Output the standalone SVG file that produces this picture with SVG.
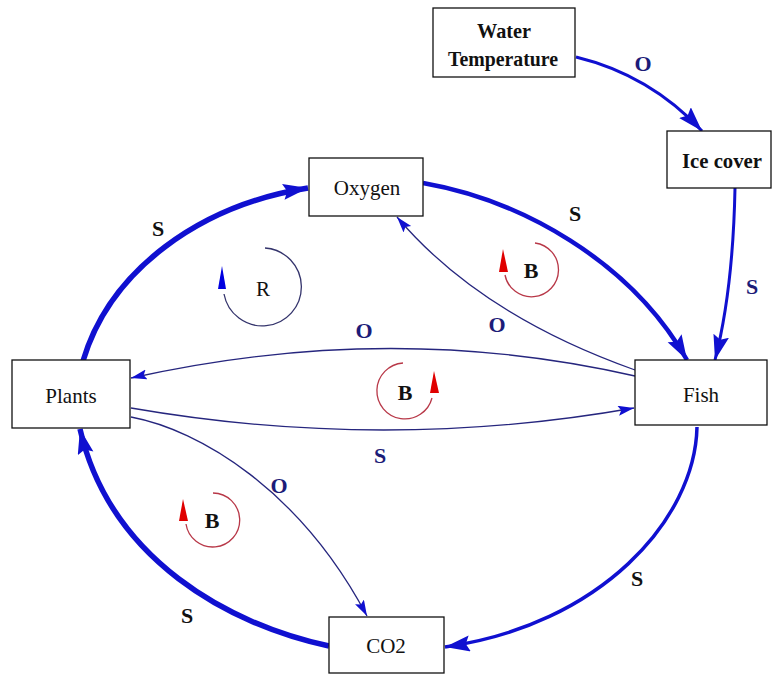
<svg xmlns="http://www.w3.org/2000/svg" width="772" height="675" viewBox="0 0 772 675">
<style>
.box{fill:#fff;stroke:#111;stroke-width:1.3}
.nt{font-family:"Liberation Serif","Times New Roman",serif;font-size:21px;fill:#111;text-anchor:middle}
.nb{font-family:"Liberation Serif","Times New Roman",serif;font-size:21px;font-weight:bold;fill:#111;text-anchor:middle}
.c{fill:none;stroke:#1010d0}
.thin{fill:none;stroke:#26267e;stroke-width:1.3}
.lb{font-family:"Liberation Serif","Times New Roman",serif;font-size:22px;font-weight:bold;text-anchor:middle}
.nv{fill:#1c1c78}
.bk{fill:#111}
.rarc{fill:none;stroke:#34346c;stroke-width:1.3}
.barc{fill:none;stroke:#b83848;stroke-width:1.3}
</style>
<defs>
<marker id="ab" markerUnits="userSpaceOnUse" markerWidth="28" markerHeight="18" refX="25" refY="8" orient="auto">
<path d="M0,0 L25,8 L0,16 L4,8 z" fill="#1010d0"/>
</marker>
<marker id="at" markerUnits="userSpaceOnUse" markerWidth="18" markerHeight="12" refX="16" refY="5" orient="auto">
<path d="M0,0 L16,5 L0,10 L3,5 z" fill="#1010d0"/>
</marker>
</defs>
<rect width="772" height="675" fill="#fff"/>
<g id="connectors">
<path class="c" stroke-width="3" d="M576,57 Q650,75 702,131" marker-end="url(#ab)"/>
<path class="c" stroke-width="3" d="M735,188 Q733,290 715,360" marker-end="url(#ab)"/>
<path class="c" stroke-width="4.5" d="M423,183 C520,200 630,260 687,360" marker-end="url(#ab)"/>
<path class="c" stroke-width="5.5" d="M83,361 C110,270 200,205 308,188" marker-end="url(#ab)"/>
<path class="thin" d="M635,370 Q480,315 397,217" marker-end="url(#at)"/>
<path class="thin" d="M635,376 Q390,320 131,378" marker-end="url(#at)"/>
<path class="thin" d="M131,408 Q385,452 634,408" marker-end="url(#at)"/>
<path class="thin" d="M131,417 C200,430 300,490 367,616" marker-end="url(#at)"/>
<path class="c" stroke-width="3.5" d="M697,427 C695,520 600,625 445,647" marker-end="url(#ab)"/>
<path class="c" stroke-width="5.5" d="M329,646 C230,625 110,560 80,429" marker-end="url(#ab)"/>
<text class="lb nv" x="643" y="71">O</text>
<text class="lb bk" x="158" y="236">S</text>
<text class="lb bk" x="575" y="221">S</text>
<text class="lb nv" x="752" y="294">S</text>
<text class="lb nv" x="364" y="338">O</text>
<text class="lb nv" x="497" y="332">O</text>
<text class="lb nv" x="380" y="463">S</text>
<text class="lb nv" x="279" y="493">O</text>
<text class="lb bk" x="187" y="623">S</text>
<text class="lb bk" x="637" y="586">S</text>
</g>
<g id="loop-R">
<path class="rarc" d="M265,248 A39,39 0 1 1 224,294"/>
<path d="M222,266 L226,289 L218,289 z" fill="#0000e0"/>
<text class="nt" x="263" y="296">R</text>
</g>
<g id="loop-B1">
<path class="barc" d="M535,243 A27,27 0 1 1 505,275"/>
<path d="M503,249 L508,272 L499,272 z" fill="#e00000"/>
<text class="lb bk" x="531" y="278">B</text>
</g>
<g id="loop-B2">
<path class="barc" d="M403,363 A28,28 0 1 0 432,398"/>
<path d="M434,371 L439,393 L430,393 z" fill="#e00000"/>
<text class="lb bk" x="405" y="400">B</text>
</g>
<g id="loop-B3">
<path class="barc" d="M213,493 A27,27 0 1 1 186,524"/>
<path d="M183,499 L188,521 L179,521 z" fill="#e00000"/>
<text class="lb bk" x="212" y="528">B</text>
</g>
<g id="water-temperature">
<rect class="box" x="433" y="8" width="142" height="69"/>
<text class="nb" x="504" y="38" textLength="54" lengthAdjust="spacingAndGlyphs">Water</text>
<text class="nb" x="503" y="66" textLength="110" lengthAdjust="spacingAndGlyphs">Temperature</text>
</g>
<g id="ice-cover">
<rect class="box" x="667" y="131" width="104" height="57"/>
<text class="nb" x="722" y="168" textLength="80" lengthAdjust="spacingAndGlyphs">Ice cover</text>
</g>
<g id="oxygen">
<rect class="box" x="309" y="158" width="114" height="58"/>
<text class="nt" x="367" y="195">Oxygen</text>
</g>
<g id="plants">
<rect class="box" x="12" y="360" width="118" height="68"/>
<text class="nt" x="71" y="403">Plants</text>
</g>
<g id="fish">
<rect class="box" x="635" y="360" width="132" height="65"/>
<text class="nt" x="701" y="402">Fish</text>
</g>
<g id="co2">
<rect class="box" x="329" y="617" width="115" height="56"/>
<text class="nt" x="386" y="653">CO2</text>
</g>
</svg>
